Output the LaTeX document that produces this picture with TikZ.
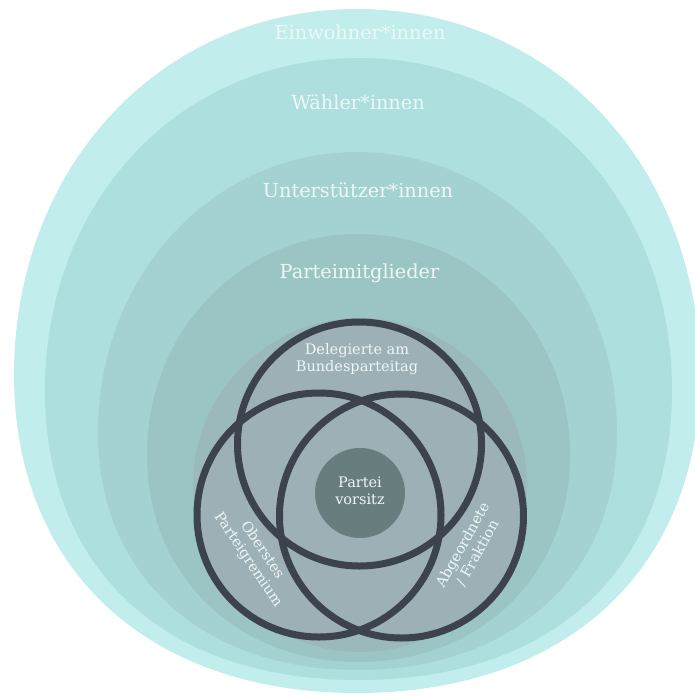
\documentclass[tikz,border=0pt]{standalone}
\usepackage{fontspec}
\setmainfont{DejaVu Serif}
\definecolor{cEinw}{HTML}{C1EDED}
\definecolor{cWaehl}{HTML}{AEDFDF}
\definecolor{cUnter}{HTML}{A4D2D2}
\definecolor{cMitgl}{HTML}{9BC5C4}
\definecolor{cDisk}{HTML}{9BB8BA}
\definecolor{cVenn}{HTML}{9CB0B5}
\definecolor{cCore}{HTML}{687D7D}
\definecolor{cRing}{HTML}{3C424E}
\definecolor{cText}{HTML}{EEF7F7}
\tikzset{
  biglbl/.style={text=cText, font=\fontsize{19.3}{22}\selectfont, inner sep=0pt, anchor=base},
  smalllbl/.style={text=cText, font=\fontsize{14.5}{17}\selectfont, inner sep=0pt, align=center},
  ring/.style={draw=cRing, line width=7pt},
}
% #1 colour, #2 cx, #3 cy, #4 half width, #5 upper height, #6 lower height, #7 upper bulge, #8 lower bulge
\newcommand\eggfill[8]{%
  \fill[#1] ({#2+#4},#3)
    .. controls ({#2+#4},{#3-#7*#5}) and ({#2+#7*#4},{#3-#5}) .. (#2,{#3-#5})
    .. controls ({#2-#7*#4},{#3-#5}) and ({#2-#4},{#3-#7*#5}) .. ({#2-#4},#3)
    .. controls ({#2-#4},{#3+#8*#6}) and ({#2-#8*#4},{#3+#6}) .. (#2,{#3+#6})
    .. controls ({#2+#8*#4},{#3+#6}) and ({#2+#4},{#3+#8*#6}) .. cycle;}
\begin{document}
\begin{tikzpicture}[x=1pt,y=-1pt]
\useasboundingbox (0,0) rectangle (695,697);
\clip (0,0) rectangle (695,697);
% nested layers
\eggfill{cEinw}{357}{375}{343}{366}{318}{0.57}{0.61}
\eggfill{cWaehl}{358.5}{390}{313.5}{332}{290}{0.57}{0.62}
\eggfill{cUnter}{357.5}{433}{259.5}{281}{237}{0.56}{0.6}
\eggfill{cMitgl}{358.5}{455}{211.5}{221}{207}{0.56}{0.58}
\fill[cDisk] (360,485) circle [radius=167];
% Venn circles
\coordinate (ctop) at (359.5,444);
\coordinate (cleft) at (319,515);
\coordinate (cright) at (401.5,516);
\fill[cVenn] (ctop) circle [radius=122];
\fill[cVenn] (cleft) circle [radius=122];
\fill[cVenn] (cright) circle [radius=122];
\fill[cCore] (360,493) circle [radius=45];
\draw[ring] (ctop) circle [radius=122];
\draw[ring] (cleft) circle [radius=122];
\draw[ring] (cright) circle [radius=122];
% labels
\node[biglbl] (einw) at (360,39) {Einwohner*innen};
\node[biglbl] (waehl) at (358,109) {Wähler*innen};
\node[biglbl] (unter) at (358,197) {Unterstützer*innen};
\node[biglbl] (mitgl) at (359.5,278) {Parteimitglieder};
\node[smalllbl] (deleg) at (357,359) {Delegierte am\\Bundesparteitag};
\node[smalllbl] (vorsitz) at (360,491) {Partei\\vorsitz};
\node[smalllbl, rotate=-56] (oberst) at (255,555) {Oberstes\\Parteigremium};
\node[smalllbl, rotate=61] (abgeord) at (470,549) {Abgeordnete\\/ Fraktion};
\end{tikzpicture}
\end{document}
